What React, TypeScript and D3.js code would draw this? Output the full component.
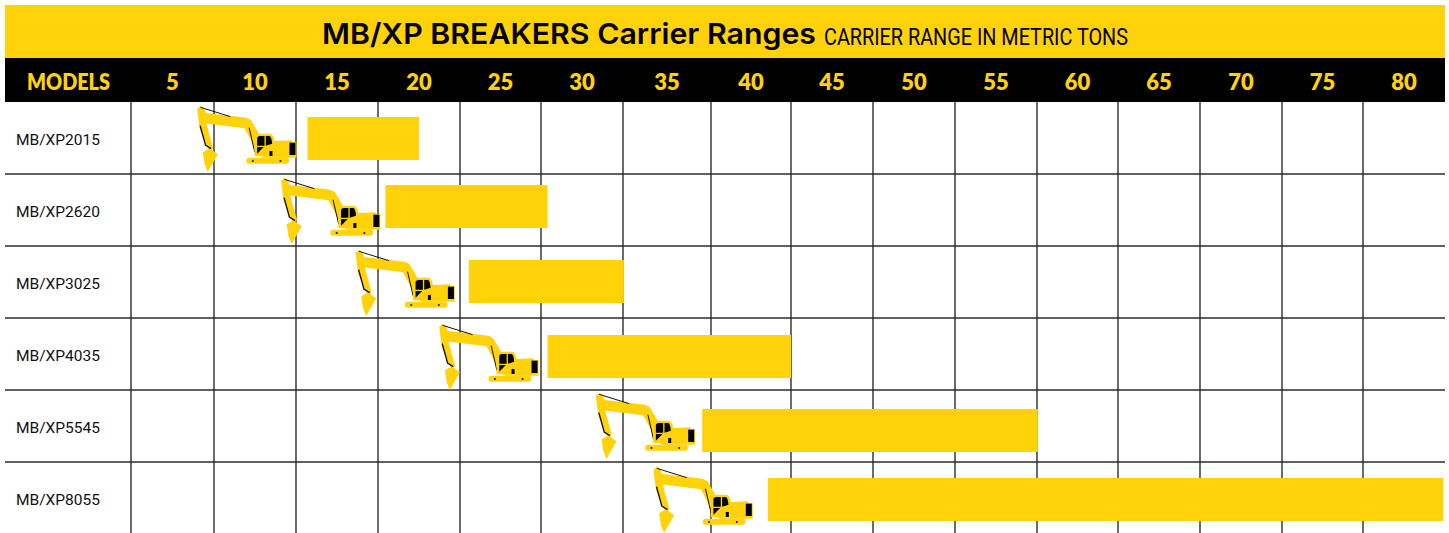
import React from 'react'
import * as d3 from 'd3'

const WIDTH = 1449
const HEIGHT = 533

// Chart values
const models = ['MB/XP2015', 'MB/XP2620', 'MB/XP3025', 'MB/XP4035', 'MB/XP5545', 'MB/XP8055']
const tonTicks = [5, 10, 15, 20, 25, 30, 35, 40, 45, 50, 55, 60, 65, 70, 75, 80]
const rangeMin = [13.2, 17.95, 23.05, 27.9, 37, 41.05]
const rangeMax = [20, 27.9, 32.55, 42.5, 57.55, 82.4]

// Layout: the source table has slightly uneven columns, so the scale is piecewise
const columnEdges = [131, 214, 296, 378, 460, 541, 623, 711, 791, 873, 955, 1037, 1118, 1200, 1282, 1363, 1445]
const barNudge = [15, 11, 14, 17, 19, 16]
const iconGap = [110, 104, 113, 108, 106, 114]
const iconDrop = [-11, -7, -10, -11, -16, -11]

const YELLOW = '#ffd20a'
const LINE = '#2b2b2b'
const SANS = 'Inter, Roboto, sans-serif'
const NARROW = '"Liberation Sans Narrow", Roboto, sans-serif'
const HEAD = 'Lato, "Open Sans", sans-serif'

const xScale = d3.scaleLinear()
  .domain(columnEdges.map((_, i) => 2.5 + i * 5))
  .range(columnEdges)

const yScale = d3.scaleBand().domain(models).range([102, 534])

// Excavator glyph, drawn 3x and scaled down
const Excavator = ({ x, y }: { x: number; y: number }) => (
  <g transform={`translate(${x},${y}) scale(0.3333) translate(-51,-33)`}>
    <path
      fill={YELLOW}
      d="M50 42 L60 32 L70 38 L76 54 L198 68 L212 76 L246 134 L232 170 L222 156 L192 100 L84 86 L78 86 L98 160 L86 168 L58 104 Z"
    />
    <path fill={YELLOW} d="M67 172 L88 160 L112 178 L82 231 L72 206 Z" />
    <path stroke="#111" strokeWidth={3} fill="none" d="M60 37 L150 65" />
    <path stroke="#111" strokeWidth={4} fill="none" d="M59 92 L75 150 L92 161" />
    <path stroke="#111" strokeWidth={3} fill="none" d="M206 98 L223 172" />
    <path fill={YELLOW} d="M222 126 Q224 116 236 116 L268 116 Q280 118 282 138 L334 136 L334 141 L348 141 L348 188 L250 188 L240 184 L222 184 Z" />
    <path fill="#000" d="M230 128 Q232 123 238 123 L252 123 L252 152 L230 152 Z" />
    <path fill="#000" d="M256 123 L268 123 Q274 130 275 146 L256 152 Z" />
    <path fill="#000" d="M230 156 L250 156 L230 176 Z" />
    <rect x={267} y={168} width={9} height={15} fill="#000" />
    <rect x={327} y={143} width={18} height={37} fill="#000" />
    <rect x={198} y={188} width={128} height={18} rx={8} fill={YELLOW} />
    <circle cx={217} cy={198} r={3} fill="#111" />
    <circle cx={300} cy={198} r={3} fill="#111" />
  </g>
)

export default function App() {
  const step = yScale.step()
  return (
    <svg
      width={WIDTH}
      height={HEIGHT}
      style={{ position: 'absolute', left: 0, top: 0, background: '#fff' }}
    >
      {/* title band */}
      <rect x={5} y={5} width={1440} height={53} fill={YELLOW} />
      <text x={322} y={44} fontFamily={SANS} fontSize={29} fontWeight={600} fill="#000" textLength={494} lengthAdjust="spacingAndGlyphs">
        MB/XP BREAKERS Carrier Ranges
      </text>
      <text x={824} y={45} fontFamily={NARROW} fontSize={23} fill="#000" textLength={304} lengthAdjust="spacingAndGlyphs">
        CARRIER RANGE IN METRIC TONS
      </text>

      {/* header band */}
      <rect x={5} y={58} width={1440} height={44} fill="#000" />
      <text x={27} y={90} fontFamily={HEAD} fontSize={22} fontWeight={800} fill={YELLOW} textLength={83} lengthAdjust="spacingAndGlyphs">
        MODELS
      </text>
      {tonTicks.map(t => (
        <text key={t} x={xScale(t)} y={90} textAnchor="middle" fontFamily={HEAD} fontSize={22} fontWeight={800} fill={YELLOW}>
          {t}
        </text>
      ))}

      {/* grid */}
      {columnEdges.slice(0, -1).map(px => (
        <line key={px} x1={px} x2={px} y1={102} y2={HEIGHT} stroke={LINE} strokeWidth={1.4} />
      ))}
      {models.map(m => (
        <line key={m} x1={5} x2={1445} y1={(yScale(m) as number) + step} y2={(yScale(m) as number) + step} stroke={LINE} strokeWidth={1.4} />
      ))}

      {/* rows */}
      {models.map((m, i) => {
        const top = yScale(m) as number
        const x0 = xScale(rangeMin[i])
        return (
          <g key={m}>
            <text x={16} y={top + 43} fontFamily="Roboto, sans-serif" fontSize={14.5} fill="#111" textLength={84} lengthAdjust="spacingAndGlyphs">
              {m}
            </text>
            <rect x={x0} y={top + barNudge[i]} width={xScale(rangeMax[i]) - x0} height={43} fill={YELLOW} />
            <Excavator x={x0 - iconGap[i]} y={top + barNudge[i] + iconDrop[i]} />
          </g>
        )
      })}
    </svg>
  )
}
